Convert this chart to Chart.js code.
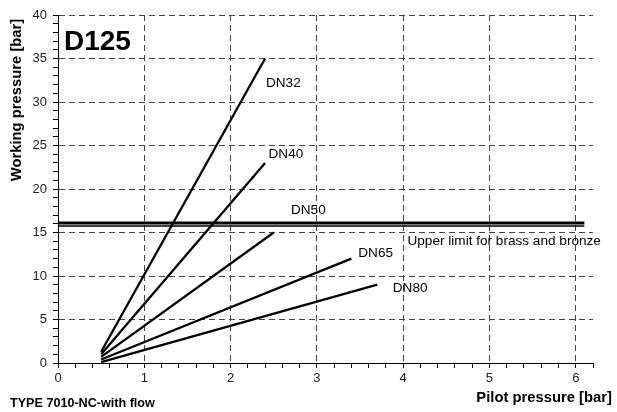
<!DOCTYPE html>
<html>
<head>
<meta charset="utf-8">
<script src="https://cdn.jsdelivr.net/npm/chart.js@4/dist/chart.umd.min.js"></script>
<style>
html, body { margin: 0; padding: 0; background: #fff; }
#wrap { width: 617px; height: 412px; position: relative; }
</style>
</head>
<body>
<div id="wrap"><canvas id="chart"></canvas></div>
<script>
const FONT = "'Liberation Sans', Arial, sans-serif";

// sloped lines, one per nominal size
const seriesNames = ["DN32", "DN40", "DN50", "DN65", "DN80"];
const startX = [0.5, 0.5, 0.5, 0.5, 0.5];
const startY = [1.3, 1.0, 0.7, 0.4, 0.1];
const endX = [2.4, 2.4, 2.5, 3.4, 3.7];
const endY = [35, 23, 15, 12, 9];

// horizontal DN50 limit (double line)
const limitX = [0, 6.1];
const limitY = [16.1, 15.75];

// annotations
const noteText = ["DN32", "DN40", "DN50", "DN65", "DN80", "Upper limit for brass and bronze"];
const noteX = [2.41, 2.44, 2.70, 3.48, 3.88, 4.05];
const noteY = [32.2, 24.0, 17.6, 12.6, 8.6, 14.0];

const xMin = 0, xMax = 6.2, xStep = 0.2;
const yMin = 0, yMax = 40, yStep = 1, yLabelEvery = 5;

function isWhole(v) { return Math.abs(v - Math.round(v)) < 1e-6; }

var datasets = [];
for (let i = 0; i < seriesNames.length; i++) {
    datasets.push({
        label: seriesNames[i],
        data: [{x: startX[i], y: startY[i]}, {x: endX[i], y: endY[i]}],
        showLine: true,
        borderColor: "#000",
        borderWidth: 2.3,
        pointRadius: 0,
    });
}
datasets.push({
    label: "limit",
    data: limitX.map((x) => ({x: x, y: limitY[0]})),
    showLine: true, borderColor: "#000", borderWidth: 3, pointRadius: 0,
});
datasets.push({
    label: "limit2",
    data: limitX.map((x) => ({x: x, y: limitY[1]})),
    showLine: true, borderColor: "#000", borderWidth: 1.4, pointRadius: 0,
});

const textPlugin = {
    id: "texts",
    afterDatasetsDraw(chart) {
        const ctx = chart.ctx;
        const xs = chart.scales.x, ys = chart.scales.y;
        ctx.save();
        ctx.fillStyle = "#000";
        ctx.font = "13.6px " + FONT;
        ctx.textAlign = "left";
        ctx.textBaseline = "middle";
        for (let i = 0; i < noteText.length; i++) {
            ctx.fillText(noteText[i], xs.getPixelForValue(noteX[i]), ys.getPixelForValue(noteY[i]));
        }
        // chart tag
        ctx.font = "bold 28px " + FONT;
        ctx.textBaseline = "alphabetic";
        ctx.fillText("D125", 64, 50);
        ctx.restore();
    },
    afterDraw(chart) {
        const ctx = chart.ctx;
        ctx.save();
        ctx.fillStyle = "#000";
        ctx.font = "bold 14.8px " + FONT;
        ctx.textBaseline = "middle";
        ctx.textAlign = "right";
        ctx.fillText("Pilot pressure [bar]", 612, 398);
        ctx.font = "bold 12.6px " + FONT;
        ctx.textAlign = "left";
        ctx.fillText("TYPE 7010-NC-with flow", 10, 404);
        ctx.translate(17, 100);
        ctx.rotate(-Math.PI / 2);
        ctx.font = "bold 14.8px " + FONT;
        ctx.textAlign = "center";
        ctx.fillText("Working pressure [bar]", 0, 0);
        ctx.restore();
    }
};

new Chart(document.getElementById("chart"), {
    type: "scatter",
    data: { datasets: datasets },
    options: {
        responsive: true,
        maintainAspectRatio: false,
        animation: false,
        layout: { padding: { top: 15, right: 24, left: 0, bottom: 0 } },
        plugins: { legend: { display: false }, tooltip: { enabled: false } },
        scales: {
            x: {
                type: "linear",
                min: xMin, max: xMax,
                afterFit: (s) => { s.height = 49; },
                ticks: {
                    stepSize: xStep,
                    autoSkip: false,
                    maxRotation: 0,
                    padding: 3,
                    color: "#222",
                    font: { family: FONT, size: 13 },
                    callback: (v) => isWhole(v) ? Math.round(v) : "",
                },
                grid: {
                    color: (c) => (c.tick && isWhole(c.tick.value) && c.tick.value > 0) ? "#444" : "rgba(0,0,0,0)",
                    lineWidth: 1,
                    tickColor: "#000",
                    tickWidth: 1,
                    tickLength: 5,
                    tickBorderDash: [],
                },
                border: { display: true, color: "#000", width: 1, dash: [6, 4] },
            },
            y: {
                type: "linear",
                min: yMin, max: yMax,
                afterFit: (s) => { s.width = 58; },
                ticks: {
                    stepSize: yStep,
                    autoSkip: false,
                    padding: 6,
                    color: "#222",
                    font: { family: FONT, size: 13 },
                    callback: (v) => (isWhole(v) && Math.round(v) % yLabelEvery == 0) ? Math.round(v) : "",
                },
                grid: {
                    color: (c) => (c.tick && Math.round(c.tick.value) % yLabelEvery == 0 && c.tick.value > 0) ? "#444" : "rgba(0,0,0,0)",
                    lineWidth: 1,
                    tickColor: "#000",
                    tickWidth: 1,
                    tickLength: 5,
                    tickBorderDash: [],
                },
                border: { display: true, color: "#000", width: 1, dash: [6, 4] },
            }
        }
    },
    plugins: [textPlugin]
});
</script>
</body>
</html>
